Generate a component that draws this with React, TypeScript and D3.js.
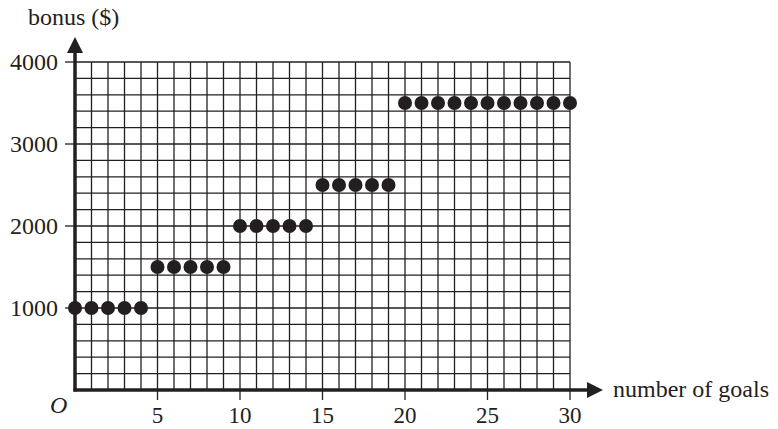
import React from "react";
import * as d3 from "d3";

const goals: number[] = [0,1,2,3,4,5,6,7,8,9,10,11,12,13,14,15,16,17,18,19,20,21,22,23,24,25,26,27,28,29,30];
const bonus: number[] = [1000,1000,1000,1000,1000,1500,1500,1500,1500,1500,2000,2000,2000,2000,2000,2500,2500,2500,2500,2500,3500,3500,3500,3500,3500,3500,3500,3500,3500,3500,3500];
const xTicks: number[] = [5, 10, 15, 20, 25, 30];
const yTicks: number[] = [1000, 2000, 3000, 4000];
const xGrid: number[] = d3.range(0, 31, 1);
const yGrid: number[] = d3.range(0, 4001, 200);

const W = 778, H = 429;
const INK = "#231f20";
const FONT = "'Liberation Serif', 'Times New Roman', serif";

export default function App() {
  const x = d3.scaleLinear().domain([0, 30]).range([75, 570]);
  const y = d3.scaleLinear().domain([0, 4000]).range([390, 62]);
  const x0 = x(0), y0 = y(0);
  return (
    <svg width={W} height={H} style={{ position: "absolute", left: 0, top: 0, background: "#fff" }}>
      {/* grid */}
      {xGrid.map((g) => (
        <line key={"gx" + g} x1={x(g)} x2={x(g)} y1={y(0)} y2={y(4000)} stroke={INK} strokeWidth={1.3} />
      ))}
      {yGrid.map((g) => (
        <line key={"gy" + g} x1={x(0)} x2={x(30)} y1={y(g)} y2={y(g)} stroke={INK} strokeWidth={1.3} />
      ))}
      {/* ticks */}
      {xTicks.map((t) => (
        <g key={"xt" + t}>
          <line x1={x(t)} x2={x(t)} y1={y0} y2={y0 + 10} stroke={INK} strokeWidth={1.3} />
          <text x={x(t)} y={423} textAnchor="middle" fontFamily={FONT} fontSize={23} fill={INK}>{t}</text>
        </g>
      ))}
      {yTicks.map((t) => (
        <g key={"yt" + t}>
          <line x1={x0 - 10} x2={x0} y1={y(t)} y2={y(t)} stroke={INK} strokeWidth={1.3} />
          <text x={58} y={y(t)} dy="0.34em" textAnchor="end" fontFamily={FONT} fontSize={24} fill={INK}>{t}</text>
        </g>
      ))}
      {/* axes */}
      <line x1={x0} x2={x0} y1={y0 + 1.5} y2={50} stroke={INK} strokeWidth={3.5} />
      <line x1={x0 - 1.5} x2={589} y1={y0} y2={y0} stroke={INK} strokeWidth={3.5} />
      <path d={`M${x0},37 L${x0 + 8},53 L${x0 - 8},53 Z`} fill={INK} />
      <path d={`M603,${y0} L587,${y0 - 8} L587,${y0 + 8} Z`} fill={INK} />
      {/* points */}
      {goals.map((g, i) => (
        <circle key={"p" + g} cx={x(g)} cy={y(bonus[i])} r={7} fill={INK} />
      ))}
      {/* labels */}
      <text x={28} y={25} fontFamily={FONT} fontSize={24} fill={INK}>bonus ($)</text>
      <text x={613} y={397} fontFamily={FONT} fontSize={24} fill={INK}>number of goals</text>
      <text x={50} y={413} fontFamily={FONT} fontSize={24} fontStyle="italic" fill={INK}>O</text>
    </svg>
  );
}
